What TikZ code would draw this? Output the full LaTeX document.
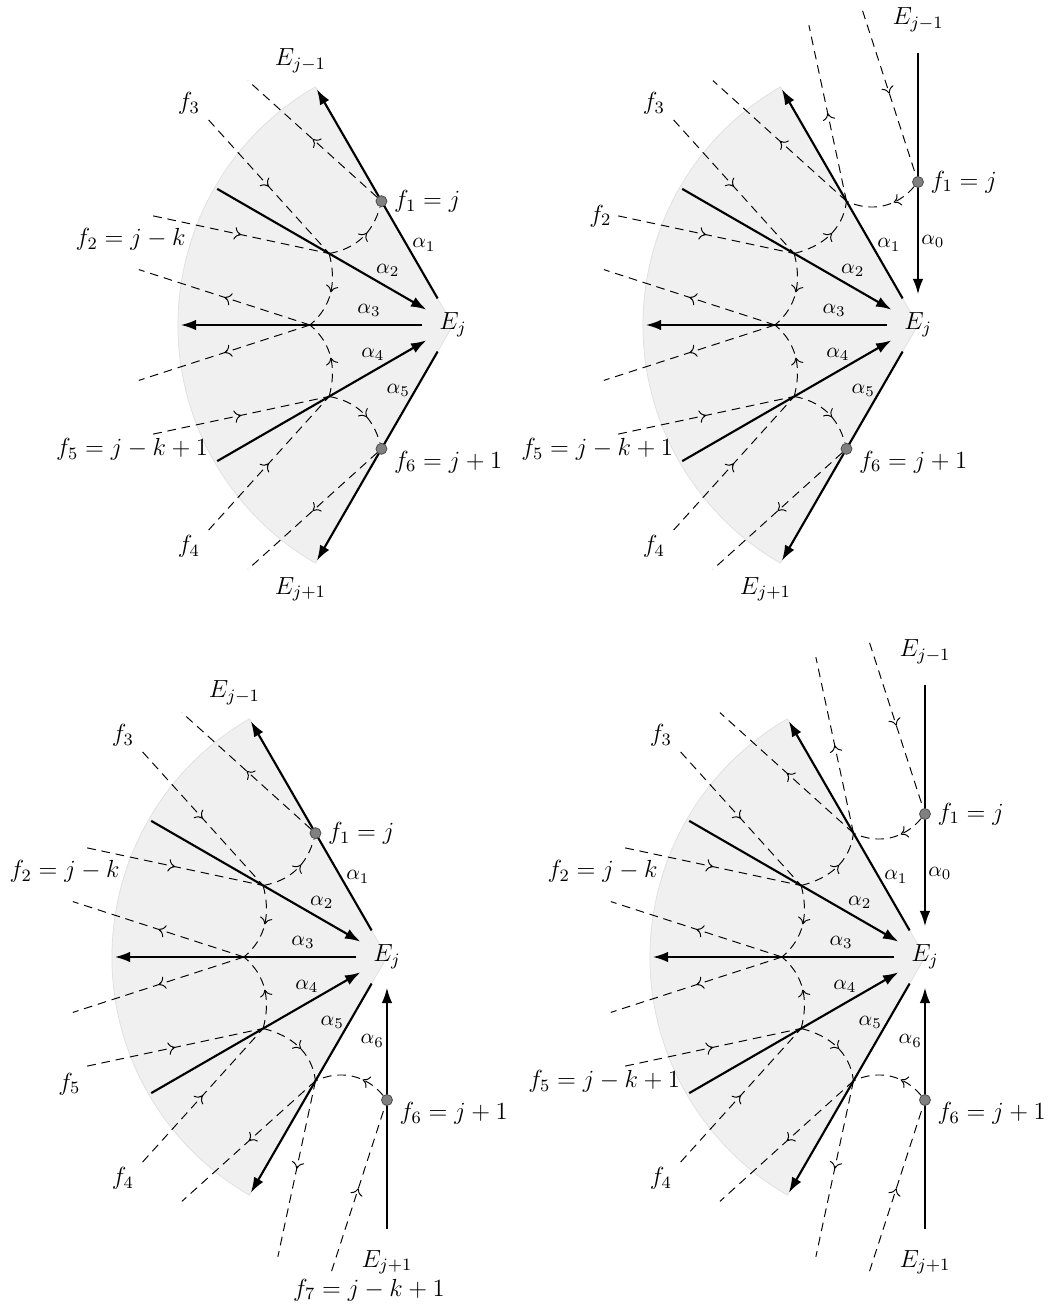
\documentclass[tikz,border=0pt]{standalone}
\usepackage{fix-cm}
\usepackage{amsmath}
\usetikzlibrary{arrows.meta, positioning, decorations.markings}

\begin{document}
\begin{tikzpicture}[
    lbl/.style={font=\fontsize{12.8}{15}\selectfont},
    angl/.style={font=\fontsize{11}{13}\selectfont},
    fan/.style={fill=black!6, draw=black!12, line width=0.4pt},
    ray/.style={line width=1.1pt, -{Latex[length=8pt, width=5.5pt]}},
    flow/.style={dash pattern=on 4.5pt off 3pt, line width=0.5pt},
    midarrow/.style={postaction={decorate, decoration={markings,
        mark=at position #1 with {\arrow{To[length=3.5pt, width=6.5pt]}}}}},
    midarrow/.default=0.5,
    vertex/.style={circle, fill=gray, draw=black!70, line width=0.4pt,
        minimum size=2mm, inner sep=0pt},
    hub/.style={circle, minimum size=1.1cm, inner sep=0pt}
]

\useasboundingbox (0,0) rectangle (19.236,-23.764);

% --- the four fans: \up=1 puts f_1 on alpha_0, \dn=1 puts f_6 on alpha_6
\foreach \pn/\cx/\cy/\up/\dn in {a/8.236/-5.909/0/0, b/16.691/-5.909/1/0,
                                 c/7.036/-17.4/0/1, d/16.818/-17.4/1/1} {
\begin{scope}[shift={(\cx,\cy)}]
    \filldraw[fan] (0,0) -- (120:5) arc[start angle=120, end angle=240, radius=5] -- cycle;
    \node[hub, lbl] (Ej\pn) at (0,0) {$E_j$};

    \foreach \ang in {100,110,...,260}
        \coordinate (e\ang\pn) at (\ang:5.8);
    \foreach \ang in {90,120,...,270} {
        \coordinate (r\ang\pn) at (\ang:4.95);
        \coordinate (x\ang\pn) at (\ang:2.6);
        \coordinate (l\ang\pn) at (\ang:5.55);
    }

    % rays alpha_1 ... alpha_5
    \draw[ray] (Ej\pn) -- (r120\pn);
    \draw[ray] (r150\pn) -- (Ej\pn);
    \draw[ray] (Ej\pn) -- (r180\pn);
    \draw[ray] (r210\pn) -- (Ej\pn);
    \draw[ray] (Ej\pn) -- (r240\pn);

    % dashed curves in the middle
    \draw[flow, midarrow] (e140\pn) -- (x150\pn);
    \draw[flow, midarrow] (e160\pn) -- (x150\pn);
    \draw[flow, midarrow] (x150\pn) to[out=-75, in=40] (x180\pn);
    \draw[flow, midarrow] (x180\pn) -- (e170\pn);
    \draw[flow, midarrow] (x180\pn) -- (e190\pn);
    \draw[flow, midarrow] (x210\pn) to[out=75, in=-40] (x180\pn);
    \draw[flow, midarrow] (e200\pn) -- (x210\pn);
    \draw[flow, midarrow] (e220\pn) -- (x210\pn);

    \node[lbl] (f3\pn) at (140:6.27) {$f_3$};
    \node[lbl] (f4\pn) at (220:6.27) {$f_4$};
    \foreach \i/\ang in {1/110, 2/140, 3/170, 4/200, 5/230}
        \node[angl] (al\i\pn) at (\ang:1.55) {$\alpha_\i$};

    % upper end
    \ifnum\up=0\relax
        \node[vertex] (f1\pn) at (x120\pn) {};
        \draw[flow, midarrow] (f1\pn) -- (e130\pn);
        \draw[flow, midarrow=0.6] (x150\pn) to[out=10, in=-105] (f1\pn);
        \node[lbl] (top\pn) at (l120\pn) {$E_{j-1}$};
    \else
        \draw[ray] (r90\pn) -- (Ej\pn);
        \node[vertex] (f1\pn) at (x90\pn) {};
        \draw[flow, midarrow] (e100\pn) -- (f1\pn);
        \draw[flow, midarrow=0.35] (f1\pn) to[out=-130, in=-25] (x120\pn);
        \draw[flow, midarrow=0.55] (x150\pn) to[out=14, in=-97] (x120\pn);
        \draw[flow, midarrow] (x120\pn) -- (e110\pn);
        \draw[flow, midarrow] (x120\pn) -- (e130\pn);
        \node[lbl] (top\pn) at (l90\pn) {$E_{j-1}$};
        \node[angl] (al0\pn) at (80:1.55) {$\alpha_0$};
    \fi
    \node[lbl, right=0pt of f1\pn] (f1l\pn) {$f_1 = j$};

    % lower end
    \ifnum\dn=0\relax
        \node[vertex] (f6\pn) at (x240\pn) {};
        \draw[flow, midarrow] (f6\pn) -- (e230\pn);
        \draw[flow, midarrow=0.6] (x210\pn) to[out=-10, in=105] (f6\pn);
        \node[lbl] (bot\pn) at (l240\pn) {$E_{j+1}$};
    \else
        \draw[ray] (r270\pn) -- (Ej\pn);
        \node[vertex] (f6\pn) at (x270\pn) {};
        \draw[flow, midarrow] (e260\pn) -- (f6\pn);
        \draw[flow, midarrow=0.35] (f6\pn) to[out=130, in=25] (x240\pn);
        \draw[flow, midarrow=0.55] (x210\pn) to[out=-14, in=97] (x240\pn);
        \draw[flow, midarrow] (x240\pn) -- (e250\pn);
        \draw[flow, midarrow] (x240\pn) -- (e230\pn);
        \node[lbl] (bot\pn) at (l270\pn) {$E_{j+1}$};
        \node[angl] (al6\pn) at (260:1.55) {$\alpha_6$};
    \fi
    \node[lbl, right=0pt of f6\pn, yshift=-2.4mm] (f6l\pn) {$f_6 = j + 1$};
\end{scope}
}

% --- labels of f_2, f_5 and f_7
\node[lbl, anchor=east] (f2a) at ([shift={(0.71,-0.43)}]e160a) {$f_2 = j - k$};
\node[lbl, left=0pt of e160b] (f2b) {$f_2$};
\node[lbl, anchor=east] (f2c) at ([shift={(0.71,-0.43)}]e160c) {$f_2 = j - k$};
\node[lbl, anchor=east] (f2d) at ([shift={(0.71,-0.43)}]e160d) {$f_2 = j - k$};

\node[lbl, anchor=east] (f5a) at ([shift={(1.12,-0.28)}]e200a) {$f_5 = j - k + 1$};
\node[lbl, anchor=east] (f5b) at ([shift={(1.12,-0.28)}]e200b) {$f_5 = j - k + 1$};
\node[lbl, below left=0pt of e200c] (f5c) {$f_5$};
\node[lbl, anchor=east] (f5d) at ([shift={(1.12,-0.28)}]e200d) {$f_5 = j - k + 1$};

\node[lbl] (f7c) at ([shift={(0.68,-0.34)}]e260c) {$f_7 = j - k + 1$};

\end{tikzpicture}
\end{document}
